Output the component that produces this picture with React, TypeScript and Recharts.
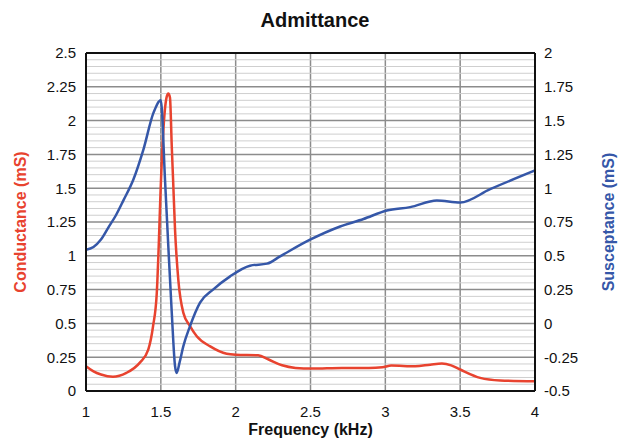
import { LineChart, Line, XAxis, YAxis, CartesianGrid, ReferenceLine } from 'recharts'

// conductance (left axis, mS)
const gFreq = [1.0, 1.05, 1.1, 1.18, 1.27, 1.36, 1.416, 1.448, 1.473, 1.485, 1.497, 1.517, 1.538, 1.55, 1.561, 1.573, 1.582, 1.595, 1.617, 1.65, 1.695, 1.74, 1.83, 1.94, 2.0, 2.15, 2.22, 2.31, 2.4, 2.51, 2.71, 2.89, 2.98, 3.04, 3.2, 3.3, 3.378, 3.44, 3.5, 3.634, 3.767, 4.0]
const gValues = [0.183, 0.145, 0.122, 0.105, 0.134, 0.21, 0.306, 0.479, 0.727, 1.045, 1.44, 1.93, 2.17, 2.2, 2.17, 1.81, 1.56, 1.19, 0.82, 0.58, 0.48, 0.405, 0.33, 0.275, 0.268, 0.264, 0.233, 0.19, 0.171, 0.166, 0.171, 0.171, 0.176, 0.188, 0.183, 0.195, 0.203, 0.19, 0.159, 0.097, 0.078, 0.072]

// susceptance (right axis, mS)
const bFreq = [1.0, 1.05, 1.1, 1.15, 1.2, 1.25, 1.316, 1.383, 1.45, 1.5, 1.528, 1.55, 1.573, 1.595, 1.606, 1.625, 1.65, 1.695, 1.762, 1.849, 1.963, 2.096, 2.21, 2.297, 2.497, 2.698, 2.854, 3.01, 3.166, 3.344, 3.5, 3.7, 4.0]
const bValues = [0.545, 0.565, 0.62, 0.71, 0.8, 0.91, 1.062, 1.283, 1.555, 1.65, 1.06, 0.57, 0.08, -0.317, -0.366, -0.29, -0.17, -0.02, 0.154, 0.25, 0.348, 0.427, 0.442, 0.496, 0.619, 0.717, 0.772, 0.835, 0.86, 0.909, 0.894, 0.993, 1.131]

const xTicks = [1, 1.5, 2, 2.5, 3, 3.5, 4]
const leftTicks = [0, 0.25, 0.5, 0.75, 1, 1.25, 1.5, 1.75, 2, 2.25, 2.5]
const rightTicks = [-0.5, -0.25, 0, 0.25, 0.5, 0.75, 1, 1.25, 1.5, 1.75, 2]

// light lines every 0.05 between the major ones
const minorValues: number[] = []
for (let i = 1; i < 50; i++) {
  if (i % 5 !== 0) minorValues.push(+(i * 0.05).toFixed(2))
}

const gData = gFreq.map((f, i) => ({ f, g: gValues[i] }))
const bData = bFreq.map((f, i) => ({ f, b: bValues[i] }))

const FONT = '"Liberation Sans", Arial, sans-serif'
const RED = '#e8432f'
const BLUE = '#3557a8'

export default function App() {
  return (
    <div style={{ position: 'absolute', left: 0, top: 0, width: 630, height: 441, background: '#fff', fontFamily: FONT }}>
      <div style={{ position: 'absolute', left: 0, top: 8, width: 630, textAlign: 'center', fontSize: 20, fontWeight: 'bold', lineHeight: '24px', color: '#111' }}>
        Admittance
      </div>
      <LineChart width={630} height={441} margin={{ top: 53, right: 0, bottom: 0, left: 0 }}>
        {minorValues.map(v => (
          <ReferenceLine key={v} y={v} yAxisId={0} stroke="#cfcfcf" strokeWidth={1} />
        ))}
        <CartesianGrid stroke="#8c8c8c" strokeWidth={1.5} />
        <XAxis
          type="number"
          dataKey="f"
          domain={[1, 4]}
          ticks={xTicks}
          allowDataOverflow
          height={50}
          tickLine={false}
          tickMargin={9}
          axisLine={{ stroke: '#111', strokeWidth: 2 }}
          tick={{ fill: '#111', fontSize: 15, fontFamily: FONT }}
          label={{ value: 'Frequency (kHz)', position: 'insideBottom', offset: 6, style: { fill: '#111', fontSize: 16, fontWeight: 'bold', fontFamily: FONT } }}
        />
        <YAxis
          yAxisId={0}
          domain={[0, 2.5]}
          ticks={leftTicks}
          allowDataOverflow
          width={86}
          tickLine={false}
          tickMargin={4}
          axisLine={{ stroke: '#111', strokeWidth: 2 }}
          tick={{ fill: '#111', fontSize: 15, fontFamily: FONT }}
          label={{ value: 'Conductance (mS)', angle: -90, position: 'insideLeft', offset: 20, style: { textAnchor: 'middle', fill: RED, fontSize: 16, fontWeight: 'bold', fontFamily: FONT } }}
        />
        <YAxis
          yAxisId="right"
          orientation="right"
          domain={[-0.5, 2]}
          ticks={rightTicks}
          allowDataOverflow
          width={95}
          tickLine={false}
          tickMargin={3}
          axisLine={{ stroke: '#111', strokeWidth: 2 }}
          tick={{ fill: '#111', fontSize: 15, fontFamily: FONT, textAnchor: 'start' }}
          label={{ value: 'Susceptance (mS)', angle: -90, position: 'insideRight', offset: 22, style: { textAnchor: 'middle', fill: BLUE, fontSize: 16, fontWeight: 'bold', fontFamily: FONT } }}
        />
        <ReferenceLine y={2.5} yAxisId={0} stroke="#111" strokeWidth={2} />
        <Line data={gData} dataKey="g" yAxisId={0} type="monotone" stroke={RED} strokeWidth={2.5} dot={false} isAnimationActive={false} />
        <Line data={bData} dataKey="b" yAxisId="right" type="monotone" stroke={BLUE} strokeWidth={2.5} dot={false} isAnimationActive={false} />
      </LineChart>
    </div>
  )
}
